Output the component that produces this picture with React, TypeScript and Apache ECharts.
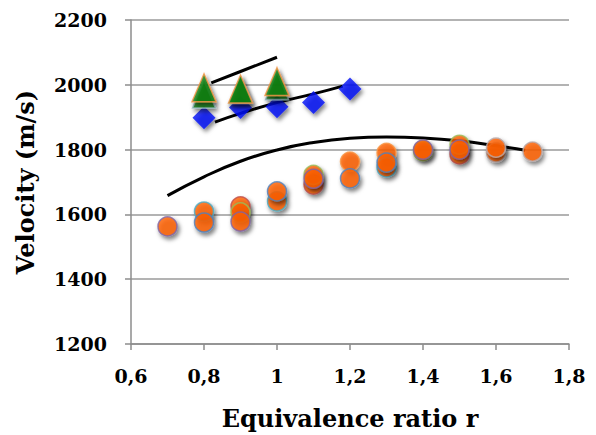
import React, { useEffect, useRef } from "react";
import * as echarts from "echarts";

// Tick labels
const xTicks = [0.6, 0.8, 1.0, 1.2, 1.4, 1.6, 1.8];
const yTicks = [1200, 1400, 1600, 1800, 2000, 2200];

// Fitted curves
const curveMain: [number, number][] = [
  [0.7, 1658], [0.8, 1716], [0.9, 1764], [1.0, 1799], [1.1, 1822], [1.2, 1835],
  [1.3, 1839], [1.4, 1836], [1.5, 1827], [1.6, 1812], [1.68, 1798],
];
const curveDiamond: [number, number][] = [
  [0.83, 1885], [0.9, 1912], [1.0, 1945], [1.1, 1972], [1.18, 1996],
];
const curveTriangle: [number, number][] = [
  [0.82, 2006], [0.9, 2041], [1.0, 2085],
];

// Diamonds
const diamonds: [number, number][] = [
  [0.8, 1898], [0.9, 1930], [1.0, 1932], [1.1, 1945], [1.2, 1987],
];

// Triangles
const trianglesA: [number, number][] = [[0.8, 1991], [0.9, 1987], [1.0, 2010]];
const trianglesB: [number, number][] = [[0.8, 1970], [0.9, 1984], [1.0, 1996]];

// Circles (orange fill, several runs with different outline colours)
const circlesBlue: [number, number][] = [[0.8, 1575], [1.0, 1671], [1.2, 1711], [1.3, 1760]];
const circlesTeal: [number, number][] = [[0.8, 1609], [1.0, 1640], [1.3, 1745]];
const circlesRed: [number, number][] = [[0.9, 1625], [1.1, 1692], [1.5, 1785]];
const circlesGreen: [number, number][] = [[0.9, 1606], [1.1, 1722], [1.4, 1795], [1.5, 1815]];
const circlesPurple: [number, number][] = [[0.7, 1563], [0.9, 1578], [1.1, 1710], [1.4, 1800], [1.5, 1800]];
const circlesOrange: [number, number][] = [[1.2, 1763], [1.3, 1790]];
const circlesGray: [number, number][] = [[1.6, 1791], [1.6, 1806], [1.7, 1794]];

const FONT = "DejaVu Serif";

export default function App() {
  const ref = useRef<HTMLDivElement>(null);
  useEffect(() => {
    if (!ref.current) return;
    const chart = echarts.init(ref.current, undefined, { renderer: "svg" });
    const shadow = {
      shadowBlur: 4,
      shadowColor: "rgba(0,0,0,0.6)",
      shadowOffsetX: 2,
      shadowOffsetY: 3,
    };
    const lineSeries = (data: [number, number][]) => ({
      type: "line",
      data,
      smooth: 0.5,
      showSymbol: false,
      symbol: "none",
      lineStyle: { color: "#000", width: 3 },
      z: 1,
      silent: true,
    });
    const circleSeries = (data: [number, number][], border: string) => ({
      type: "scatter",
      data,
      symbol: "circle",
      symbolSize: 19,
      itemStyle: { color: "#FF6000", borderColor: border, borderWidth: 1.5, ...shadow },
      z: 3,
    });
    chart.setOption({
      animation: false,
      backgroundColor: "#fff",
      grid: { left: 131, right: 27, top: 20, bottom: 89 },
      xAxis: {
        type: "value",
        min: 0.6,
        max: 1.8,
        interval: 0.2,
        name: "Equivalence ratio r",
        nameLocation: "middle",
        nameGap: 62,
        nameTextStyle: { fontFamily: FONT, fontWeight: "bold", fontSize: 24, color: "#000" },
        axisLine: { show: true, lineStyle: { color: "#8c8c8c", width: 1.5 } },
        axisTick: { show: true, length: 6, inside: false, lineStyle: { color: "#8c8c8c", width: 1.5 } },
        axisLabel: {
          margin: 22,
          fontFamily: FONT,
          fontWeight: "bold",
          fontSize: 19,
          color: "#000",
          formatter: (v: number) => {
            const t = xTicks.find((k) => Math.abs(k - v) < 1e-6);
            const val = t !== undefined ? t : v;
            return parseFloat(val.toFixed(1)).toString().replace(".", ",");
          },
        },
        splitLine: { show: false },
      },
      yAxis: {
        type: "value",
        min: yTicks[0],
        max: yTicks[yTicks.length - 1],
        interval: 200,
        name: "Velocity (m/s)",
        nameLocation: "middle",
        nameGap: 94,
        nameTextStyle: { fontFamily: FONT, fontWeight: "bold", fontSize: 24, color: "#000" },
        axisLine: { show: true, lineStyle: { color: "#8c8c8c", width: 1.5 } },
        axisTick: { show: true, length: 6, inside: false, lineStyle: { color: "#8c8c8c", width: 1.5 } },
        axisLabel: {
          margin: 24,
          fontFamily: FONT,
          fontWeight: "bold",
          fontSize: 19,
          color: "#000",
          formatter: (v: number) => String(Math.round(v)),
        },
        splitLine: { show: true, lineStyle: { color: "#9a9a9a", width: 1.5 } },
      },
      series: [
        lineSeries(curveMain),
        lineSeries(curveDiamond),
        lineSeries(curveTriangle),
        circleSeries(circlesGray, "#b9a9a9"),
        circleSeries(circlesOrange, "#F79646"),
        circleSeries(circlesTeal, "#4BACC6"),
        circleSeries(circlesBlue, "#4F81BD"),
        circleSeries(circlesRed, "#C0504D"),
        circleSeries(circlesGreen, "#9BBB59"),
        circleSeries(circlesPurple, "#8064A2"),
        {
          type: "scatter",
          data: diamonds,
          symbol: "diamond",
          symbolSize: [23, 23],
          itemStyle: { color: "#0010F5", ...shadow },
          z: 3,
        },
        {
          type: "scatter",
          data: trianglesB,
          symbol: "triangle",
          symbolSize: [23, 27],
          itemStyle: { color: "#0B7F12", borderColor: "#9fc3c8", borderWidth: 1.5, ...shadow },
          z: 4,
        },
        {
          type: "scatter",
          data: trianglesA,
          symbol: "triangle",
          symbolSize: [24, 28],
          itemStyle: { color: "#0B7F12", borderColor: "#F79646", borderWidth: 1.5, ...shadow },
          z: 4,
        },
      ],
    });
    return () => chart.dispose();
  }, []);
  return (
    <div
      ref={ref}
      style={{ position: "fixed", left: 0, top: 0, width: 596, height: 435, background: "#fff" }}
    />
  );
}
